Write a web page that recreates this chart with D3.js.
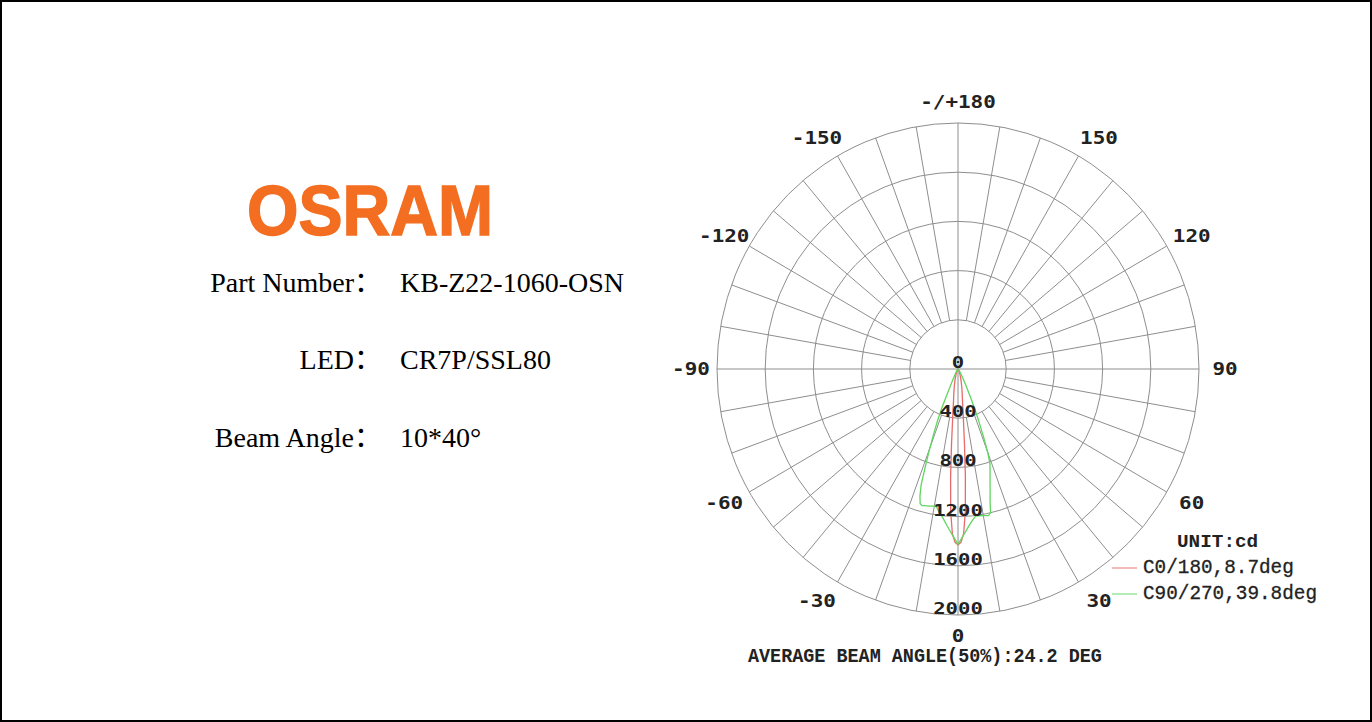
<!DOCTYPE html>
<html><head><meta charset="utf-8">
<script src="https://cdn.jsdelivr.net/npm/d3@7"></script>
<style>html,body{margin:0;padding:0;background:#fff;}svg{display:block;}</style>
</head><body>
<svg id="chart" width="1372" height="722"></svg>
<script>
// ---- data ----
const ringValues = [400, 800, 1200, 1600, 2000];
const ringLabels = ["0", "400", "800", "1200", "1600", "2000"];
const angleTicks = [0, 30, 60, 90, 120, 150, 180, -150, -120, -90, -60, -30];
const angleTickLabels = ["0", "30", "60", "90", "120", "150", "-/+180", "-150", "-120", "-90", "-60", "-30"];

const redAngles = [-90,-60,-45,-30,-20,-15,-12,-10,-8,-7,-6,-5,-4,-3,-2,-1,0,1,2,3,4,5,6,7,8,10,12,15,20,30,45,60,90];
const redValues = [0,1,4,15,50,100,150,200,270,340,440,620,880,1160,1340,1410,1430,1410,1340,1160,880,620,440,340,270,200,150,100,50,15,4,1,0];

const greenAngles = [-90,-60,-40,-30,-26,-24,-23,-22,-21,-20,-19,-18,-17,-16,-15,-14,-12,-10,-9,-8,-6,-4,-2,0,2,4,6,7,8,10,12,13,14,15,16,17,18,19,20,21,22,23,24,26,28,30,35,40,60,90];
const greenValues = [0,3,12,40,100,200,340,450,560,680,820,990,1080,1140,1150,1145,1140,1132,1135,1165,1215,1280,1350,1425,1350,1280,1225,1205,1205,1210,1218,1200,1100,1030,965,910,860,815,720,590,470,370,280,150,90,55,25,12,3,0];

const seriesNames = ["C0/180,8.7deg", "C90/270,39.8deg"];
const seriesColors = ["#e86a6a", "#5fd65f"];
const unitLabel = "UNIT:cd";
const avgLabel = "AVERAGE BEAM ANGLE(50%):24.2 DEG";

const infoLabels = ["Part Number：", "LED：", "Beam Angle："];
const infoValues = ["KB-Z22-1060-OSN", "CR7P/SSL80", "10*40°"];
const brand = "OSRAM";

// ---- layout ----
const W = 1372, H = 722;
const cx = 958, cy = 369, rx = 241, ry = 246;
const maxV = 2000;
const svg = d3.select("#chart");

svg.append("rect").attr("x", 1).attr("y", 1).attr("width", W - 2).attr("height", H - 2)
  .attr("fill", "#fff").attr("stroke", "#000").attr("stroke-width", 2);

const xs = d3.scaleLinear().domain([-maxV, maxV]).range([cx - rx, cx + rx]);
const ys = d3.scaleLinear().domain([-maxV, maxV]).range([cy - ry, cy + ry]);
const rad = d => d * Math.PI / 180;
const px = (a, v) => xs(v * Math.sin(rad(a)));
const py = (a, v) => ys(v * Math.cos(rad(a)));

function monoText(sel, n, adv) {
  sel.attr("textLength", n * adv).attr("lengthAdjust", "spacingAndGlyphs");
}

// grid
const grid = svg.append("g").attr("stroke", "#8e8e8e").attr("stroke-width", 1).attr("fill", "none");
grid.selectAll("ellipse").data(ringValues).join("ellipse")
  .attr("cx", cx).attr("cy", cy)
  .attr("rx", d => xs(d) - cx).attr("ry", d => ys(d) - cy);
const spokeAngles = d3.range(0, 360, 10);
grid.selectAll("line.spoke").data(spokeAngles).join("line").attr("class", "spoke")
  .attr("x1", a => px(a, a % 90 === 0 ? 0 : ringValues[0]))
  .attr("y1", a => py(a, a % 90 === 0 ? 0 : ringValues[0]))
  .attr("x2", a => px(a, maxV)).attr("y2", a => py(a, maxV));

// curves
const line = d3.line().x(d => px(d[0], d[1])).y(d => py(d[0], d[1]));
const series = [d3.zip(redAngles, redValues), d3.zip(greenAngles, greenValues)];
svg.append("g").selectAll("path").data(series).join("path")
  .attr("d", line).attr("fill", "none")
  .attr("stroke", (d, i) => seriesColors[i]).attr("stroke-width", 1.3);

// ring labels
const ringLabelVals = [0].concat(ringValues);
svg.append("g").selectAll("text").data(ringLabels).join("text")
  .attr("x", cx).attr("y", (d, i) => ys(ringLabelVals[i]) - 1)
  .attr("text-anchor", "middle")
  .attr("font-family", "DejaVu Sans Mono").attr("font-weight", "bold").attr("font-size", 16)
  .attr("fill", "#222").text(d => d)
  .each(function(d) { monoText(d3.select(this), d.length, 12.4); });

// angle labels
const LR = 267;
const sgn = v => (Math.abs(v) < 1e-9 ? 0 : Math.sign(v));
svg.append("g").selectAll("text").data(angleTicks).join("text")
  .attr("x", a => cx + LR * Math.sin(rad(a)) + 10 * sgn(Math.sin(rad(a))) * Math.pow(Math.cos(rad(a)), 2))
  .attr("y", a => cy + LR * Math.cos(rad(a)))
  .attr("dy", "0.36em")
  .attr("text-anchor", "middle")
  .attr("font-family", "DejaVu Sans Mono").attr("font-weight", "bold").attr("font-size", 18)
  .attr("fill", "#222").text((a, i) => angleTickLabels[i])
  .each(function(a, i) { monoText(d3.select(this), angleTickLabels[i].length, 12.6); });

// legend
const lg = svg.append("g").attr("font-family", "Liberation Mono").attr("fill", "#222");
lg.append("text").attr("x", 1177).attr("y", 547).attr("font-weight", "bold").attr("font-size", 18)
  .text(unitLabel).call(s => monoText(s, unitLabel.length, 11.6));
seriesNames.forEach((name, i) => {
  lg.append("line").attr("x1", 1112).attr("x2", 1137).attr("y1", 568 + i * 26).attr("y2", 568 + i * 26)
    .attr("stroke", seriesColors[i]).attr("stroke-width", 1.3).attr("opacity", 0.7);
  lg.append("text").attr("x", 1143).attr("y", 573 + i * 26).attr("font-size", 20)
    .attr("stroke", "#222").attr("stroke-width", 0.3)
    .text(name).call(s => monoText(s, name.length, 11.6));
});

svg.append("text").attr("x", 748).attr("y", 662).attr("font-family", "Liberation Mono")
  .attr("font-weight", "bold").attr("font-size", 21).attr("fill", "#222")
  .text(avgLabel).call(s => monoText(s, avgLabel.length, 11.06));

// left info
svg.append("text").attr("x", 247).attr("y", 235).attr("font-family", "Liberation Sans")
  .attr("font-weight", "bold").attr("font-size", 70).attr("fill", "#f36e21")
  .attr("stroke", "#f36e21").attr("stroke-width", 1.5)
  .attr("textLength", 246).attr("lengthAdjust", "spacingAndGlyphs").text(brand);
const info = svg.append("g").attr("font-family", "Liberation Serif, 'Noto Sans CJK SC'").attr("font-size", 28).attr("fill", "#000");
const infoY = [292, 369, 447];
info.selectAll("text.lab").data(infoLabels).join("text").attr("class", "lab")
  .attr("x", 382).attr("y", (d, i) => infoY[i]).attr("text-anchor", "end").text(d => d);
info.selectAll("text.val").data(infoValues).join("text").attr("class", "val")
  .attr("x", 400).attr("y", (d, i) => infoY[i]).text(d => d);
</script>
</body></html>
